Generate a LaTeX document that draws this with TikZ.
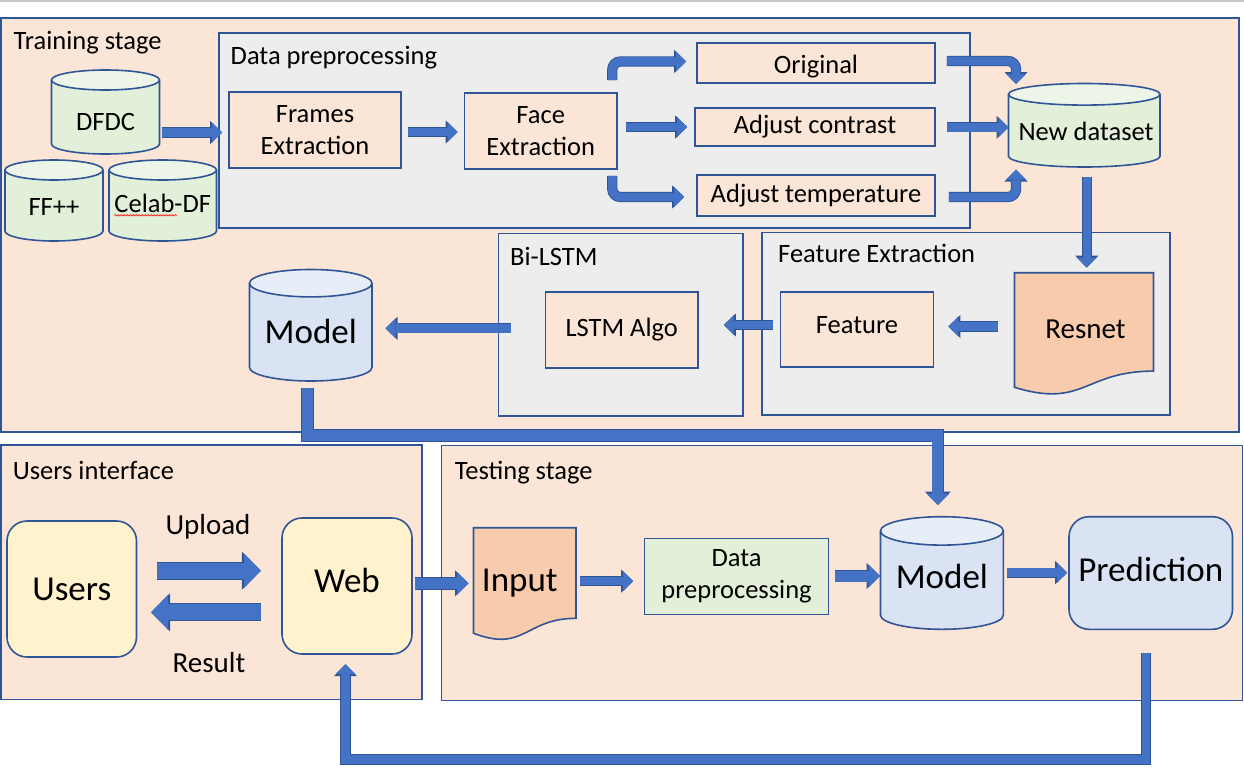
\documentclass[tikz,border=0pt]{standalone}
\usepackage{fontspec}
\setmainfont{Carlito}
\usetikzlibrary{arrows.meta,calc,decorations.pathmorphing}
\definecolor{panel}{HTML}{FBE5D6}
\definecolor{edge}{HTML}{2F5597}
\definecolor{graybox}{HTML}{EDEDED}
\definecolor{greenfill}{HTML}{E2F0D9}
\definecolor{greentop}{HTML}{EDF5E8}
\definecolor{bluefill}{HTML}{DAE3F3}
\definecolor{bluetop}{HTML}{E8EEF8}
\definecolor{docfill}{HTML}{F8CBAD}
\definecolor{yellowfill}{HTML}{FFF2CC}
\definecolor{arrfill}{HTML}{4472C4}
\definecolor{arredge}{HTML}{2F5597}
\definecolor{topline}{HTML}{C8C8C8}
\newcommand\fsn{\fontsize{26.5}{31.7}\selectfont}
\newcommand\fsl{\fontsize{35}{40}\selectfont}
\newcommand\fsm{\fontsize{29}{34}\selectfont}
\tikzset{
  panelbox/.style={draw=edge, line width=1.6pt, fill=panel, inner sep=0pt},
  graypanel/.style={draw=edge, line width=1.6pt, fill=graybox, inner sep=0pt},
  procbox/.style={draw=edge, line width=1.6pt, fill=panel, inner sep=0pt, font=\fsn, align=center},
  roundbox/.style={draw=edge, line width=1.6pt, rounded corners=20pt, inner sep=0pt, font=\fsl},
  title/.style={anchor=base west, inner sep=0pt, font=\fsn},
  txt/.style={anchor=base, inner sep=0pt},
  frame/.style={inner sep=0pt, outer sep=0pt},
  arrS/.style={draw=arrfill, line width=8.5pt, -{Triangle[width=20pt,length=10pt,line width=0pt]},
    preaction={draw=arredge, line width=10.3pt, -{Triangle[width=23pt,length=12pt,line width=0pt]}}},
  arrM/.style={draw=arrfill, line width=11pt, -{Triangle[width=23pt,length=11.5pt,line width=0pt]},
    preaction={draw=arredge, line width=12.8pt, -{Triangle[width=26pt,length=13.5pt,line width=0pt]}}},
  arrL/.style={draw=arrfill, line width=16pt, -{Triangle[width=35pt,length=17pt,line width=0pt]},
    preaction={draw=arredge, line width=17.8pt, -{Triangle[width=38pt,length=19pt,line width=0pt]}}},
}
% cylinder: name, x1, y1, x2, y2, ry, body colour, top colour
\newcommand\cylshape[8]{%
  \path[fill=#7, draw=edge, line width=1.6pt] ({#2},{#3+#6}) -- ({#2},{#5-#6})
    arc[start angle=180, end angle=360, x radius={(#4-#2)/2*1pt}, y radius={#6*1pt}] -- ({#4},{#3+#6});
  \path[fill=#8, draw=edge, line width=1.6pt] ({(#2+#4)/2},{#3+#6}) ellipse[x radius={(#4-#2)/2*1pt}, y radius={#6*1pt}];
  \node[frame, minimum width={(#4-#2)*1pt}, minimum height={(#5-#3)*1pt}] (#1) at ({(#2+#4)/2},{(#3+#5)/2}) {};
}
% document: name, x1, y1, w, h, fill
\newcommand\docshape[6]{%
  \path[fill=#6, draw=edge, line width=1.6pt] ({#2},{#3}) -- ({#2+#4},{#3}) -- ({#2+#4},{#3+0.802*#5})
    .. controls ({#2+0.5*#4},{#3+0.802*#5}) and ({#2+0.5*#4},{#3+1.1075*#5}) .. ({#2},{#3+0.934*#5}) -- cycle;
  \node[frame, minimum width={#4*1pt}, minimum height={#5*1pt}] (#1) at ({#2+#4/2},{#3+#5/2}) {};
}
\begin{document}
\begin{tikzpicture}[x=1pt,y=-1pt]
\useasboundingbox (0,0) rectangle (1244,768);
\fill[white] (0,0) rectangle (1244,768);
\draw[topline, line width=1.2pt] (0,1) -- (1244,1);

% panels
\node[panelbox, minimum width=1238pt, minimum height=414pt] (train) at (620,225) {};
\node[panelbox, minimum width=421pt, minimum height=254.5pt] (ui) at (211.5,572.25) {};
\node[panelbox, minimum width=801pt, minimum height=255pt] (test) at (842,573) {};
\node[graypanel, minimum width=751pt, minimum height=195pt] (dp) at (594.5,130.5) {};
\node[graypanel, minimum width=244.5pt, minimum height=182.5pt] (bilstm) at (620.75,324.75) {};
\node[graypanel, minimum width=408pt, minimum height=182.5pt] (featext) at (966,323.75) {};

% titles
\node[title] (tTrain) at (13.5,50) {Training stage};
\node[title] (tDp) at (230.5,65) {Data preprocessing};
\node[title] (tBi) at (510,265) {Bi-LSTM};
\node[title] (tFe) at (778,262.3) {Feature Extraction};
\node[title] (tUi) at (12.6,479) {Users interface};
\node[title] (tTest) at (454.6,479) {Testing stage};

% cylinders
\cylshape{dfdc}{51.5}{70}{159.5}{154}{10}{greenfill}{greentop}
\cylshape{ffpp}{5}{160}{103}{241}{10}{greenfill}{greentop}
\cylshape{celab}{109}{160}{216.5}{241}{10}{greenfill}{greentop}
\cylshape{newds}{1008.5}{83.5}{1160}{167}{10.8}{greenfill}{greentop}
\cylshape{modelA}{249.5}{269.5}{372}{381}{13.7}{bluefill}{bluetop}
\cylshape{modelB}{880.5}{516.7}{1003.3}{629.3}{14.2}{bluefill}{bluetop}
\node[txt, font=\fsn] (dfdct) at (105.5,130) {DFDC};
\node[txt, font=\fsn] (ffppt) at (54,215) {FF++};
\node[txt, font=\fsn] (celabt) at (162.75,212.3) {Celab-DF};
\draw[red, line width=0.6pt, decorate, decoration={snake, amplitude=0.7pt, segment length=3pt}]
  ($(celabt.base west)+(0,3)$) -- ++(63,0);
\node[txt, font=\fsn] (newdst) at (1086,140) {New dataset};
\node[txt, font=\fsl] (modelAt) at (310.75,343.3) {Model};
\node[txt, font=\fsl] (modelBt) at (941.9,588.3) {Model};

% documents
\docshape{resnet}{1014.5}{272.7}{139}{122.7}{docfill}
\docshape{input}{473.5}{527.7}{102.5}{113}{docfill}
\node[txt, font=\fsm] (resnett) at (1085.5,338.3) {Resnet};
\node[txt, font=\fsl] (inputt) at (519.8,591.7) {Input};

% process boxes
\node[procbox, minimum width=172pt, minimum height=76pt] (frames) at (315,130) {Frames\\Extraction};
\node[procbox, minimum width=152.5pt, minimum height=76pt] (face) at (540.75,131) {Face\\Extraction};
\node[procbox, minimum width=238pt, minimum height=40pt, text height=22pt, text depth=0pt] (orig) at (816,63) {Original};
\node[procbox, minimum width=240pt, minimum height=38pt] (contrast) at (815,127) {Adjust contrast};
\node[procbox, minimum width=238pt, minimum height=41pt] (temp) at (816,195.5) {Adjust temperature};
\node[procbox, minimum width=152.5pt, minimum height=76pt] (lstm) at (621.75,330) {LSTM Algo};
\node[procbox, minimum width=153pt, minimum height=75pt, text height=12pt, text depth=4.4pt] (feature) at (857,329.5) {Feature};
\node[procbox, fill=greenfill, minimum width=184pt, minimum height=76pt] (dp2) at (736.5,576.5) {Data\\preprocessing};

% rounded boxes
\node[roundbox, fill=yellowfill, minimum width=129.5pt, minimum height=136pt] (users) at (71.75,589) {Users};
\node[roundbox, fill=yellowfill, minimum width=130pt, minimum height=136pt, text height=20pt, text depth=6.6pt] (web) at (347,586) {Web};
\node[roundbox, fill=bluefill, minimum width=163.5pt, minimum height=112.6pt, text height=24.9pt, text depth=7.5pt] (pred) at (1150.75,573) {Prediction};

% labels
\node[txt, font=\fsm] (upload) at (208,534) {Upload};
\node[txt, font=\fsm] (result) at (209,672.3) {Result};

% connectors
\path ($(dfdc.east)+(2.5,20.5)$) coordinate (a1);
\draw[arrS, shorten >=6pt] (a1) -- (a1 -| frames.west);
\path ($(frames.east)+(6,2)$) coordinate (a2);
\draw[arrS, shorten >=6pt] (a2) -- (a2 -| face.west);
\path ($(face.east)+(8.5,-4)$) coordinate (a3);
\draw[arrS, shorten >=7pt] (a3) -- (a3 -| contrast.west);
\draw[arrS, rounded corners=8pt] ($(face.north east)+(-5.5,-12)$) |- ($(orig.west)+(-10,-1.5)$);
\draw[arrS, rounded corners=8pt] ($(face.south east)+(-5.5,6)$) |- ($(temp.west)+(-12,1.5)$);
\draw[arrS, rounded corners=8pt] ($(orig.east)+(11,-2)$) -| ($(newds.north west)+(7.5,0.5)$);
\path ($(contrast.east)+(11,0.3)$) coordinate (a4);
\draw[arrS] (a4) -- (a4 -| newds.west);
\draw[arrS, rounded corners=8pt] ($(temp.east)+(13,1.5)$) -| ($(newds.south west)+(7.5,2.5)$);
\draw[arrS] ($(newds.south)+(2.5,10)$) -- ($(resnet.north)+(2.75,-5)$);
\path ($(feature.east)+(64,-3)$) coordinate (a5);
\draw[arrS, shorten >=14pt] (a5) -- (a5 -| feature.east);
\path ($(feature.west)+(-7,-4.5)$) coordinate (a6);
\draw[arrS, shorten >=25pt] (a6) -- (a6 -| lstm.east);
\path ($(lstm.west)+(-33.5,-1.7)$) coordinate (a7);
\draw[arrS, shorten >=13.5pt] (a7) -- (a7 -| modelA.east);
\path ($(modelA.south)+(-3.25,7.3)$) coordinate (a8);
\draw[arrM] (a8) -- ++(0,47) -| ($(modelB.north)+(-4,-11.7)$);
\path ($(users.east)+(20,-18.3)$) coordinate (a9);
\draw[arrL, shorten >=20.3pt] (a9) -- (a9 -| web.west);
\path ($(web.west)+(-20.3,26.3)$) coordinate (a10);
\draw[arrL, shorten >=13.7pt] (a10) -- (a10 -| users.east);
\path ($(web.east)+(2,-2.7)$) coordinate (a11);
\draw[arrM, shorten >=5pt] (a11) -- (a11 -| input.west);
\path ($(input.east)+(4,-3)$) coordinate (a12);
\draw[arrS, shorten >=10.5pt] (a12) -- (a12 -| dp2.west);
\path ($(dp2.east)+(5.5,-0.5)$) coordinate (a13);
\draw[arrM, shorten >=0.5pt] (a13) -- (a13 -| modelB.west);
\path ($(modelB.east)+(4,-0.3)$) coordinate (a14);
\draw[arrS, shorten >=1pt] (a14) -- (a14 -| pred.west);
\path ($(pred.south)+(-5,22.5)$) coordinate (a15);
\draw[arrS] (a15) -- ++(0,107) -| ($(web.south)+(-1.5,9.3)$);
\end{tikzpicture}
\end{document}
